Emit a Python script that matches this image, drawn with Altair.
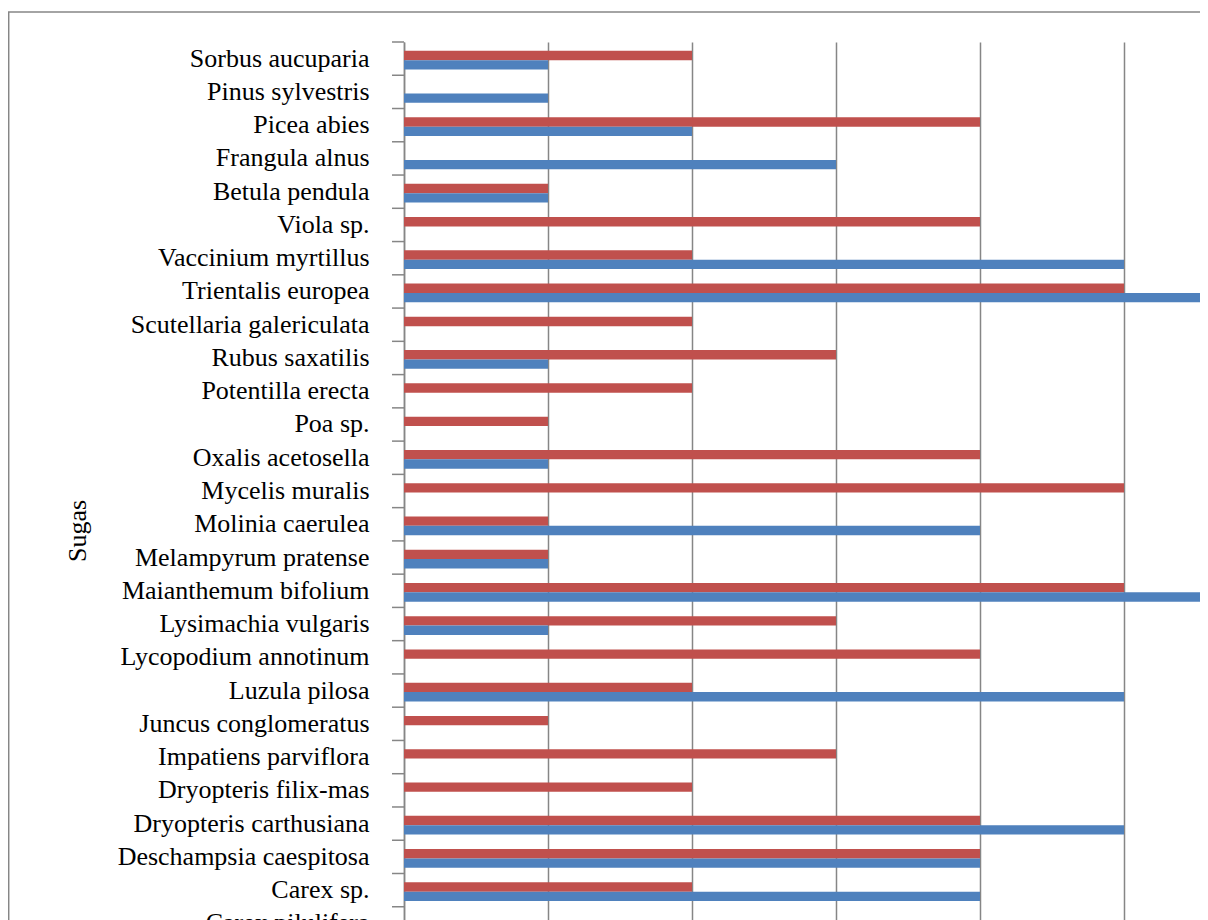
import altair as alt
import pandas as pd

# Categories, top to bottom as drawn
species = [
    "Sorbus aucuparia", "Pinus sylvestris", "Picea abies", "Frangula alnus",
    "Betula pendula", "Viola sp.", "Vaccinium myrtillus", "Trientalis europea",
    "Scutellaria galericulata", "Rubus saxatilis", "Potentilla erecta", "Poa sp.",
    "Oxalis acetosella", "Mycelis muralis", "Molinia caerulea", "Melampyrum pratense",
    "Maianthemum bifolium", "Lysimachia vulgaris", "Lycopodium annotinum",
    "Luzula pilosa", "Juncus conglomeratus", "Impatiens parviflora",
    "Dryopteris filix-mas", "Dryopteris carthusiana", "Deschampsia caespitosa",
    "Carex sp.", "Carex pilulifera",
]
# red series (upper bar of each pair)
red_values = [2, 0, 4, 0, 1, 4, 2, 5, 2, 3, 2, 1, 4, 5, 1, 1, 5, 3, 4, 2, 1, 3, 2, 4, 4, 2, 0]
# blue series (lower bar of each pair)
blue_values = [1, 1, 2, 3, 1, 0, 5, 6, 0, 1, 0, 0, 1, 0, 4, 1, 6, 1, 0, 5, 0, 0, 0, 5, 4, 4, 0]
series_names = ["A", "B"]
series_colors = ["#C0504D", "#4F81BD"]
grid_values = [0, 1, 2, 3, 4, 5]
axis_title = ["Sugas"]

rows = []
for s, r, b in zip(species, red_values, blue_values):
    rows.append({"species": s, "series": series_names[0], "value": r})
    rows.append({"species": s, "series": series_names[1], "value": b})
df = pd.DataFrame(rows)

UNIT = 144.0
W = 796
STEP = 33.26
H = STEP * len(species)
GRAY = "#868686"

x_scale = alt.Scale(domain=[0, W / UNIT], nice=False, zero=True)
y_scale = alt.Scale(domain=species, paddingInner=0, paddingOuter=0)

y_axis = alt.Axis(
    title=None, ticks=False, tickSize=0, labelPadding=35,
    labelFont="Liberation Serif", labelFontSize=26, labelColor="#000000",
    labelLimit=500, domainColor=GRAY, domainWidth=1.5, grid=False,
)
x_axis = alt.Axis(
    values=grid_values, grid=True, gridColor=GRAY, gridWidth=1.5,
    labels=False, ticks=False, domain=False, title=None,
)

bars = alt.Chart(df).mark_bar(clip=True).encode(
    x=alt.X("value:Q", scale=x_scale, axis=x_axis),
    y=alt.Y("species:N", scale=y_scale, axis=y_axis),
    yOffset=alt.YOffset(
        "series:N",
        scale=alt.Scale(domain=series_names, paddingInner=0, paddingOuter=0.773, align=0.605),
    ),
    color=alt.Color("series:N", scale=alt.Scale(domain=series_names, range=series_colors), legend=None),
)

tick_df = pd.DataFrame({"species": species})
ticks = alt.Chart(tick_df).mark_rule(color=GRAY, strokeWidth=1.5).encode(
    y=alt.Y("species:N", scale=y_scale, axis=y_axis, bandPosition=0),
    x=alt.value(-12),
    x2=alt.value(0),
)

one = pd.DataFrame({"k": [0]})
top_border = alt.Chart(one).mark_rule(color=GRAY, strokeWidth=1.5).encode(
    x=alt.value(-396), x2=alt.value(W + 50), y=alt.value(-30)
)
left_border = alt.Chart(one).mark_rule(color=GRAY, strokeWidth=1.5).encode(
    x=alt.value(-395.3), y=alt.value(-30), y2=alt.value(H + 100)
)

title_df = pd.DataFrame({"t": axis_title})
title = alt.Chart(title_df).mark_text(
    angle=270, font="Liberation Serif", fontSize=26, align="center",
    baseline="alphabetic", color="#000000",
).encode(x=alt.value(-318), y=alt.value(489), text="t:N")

chart = alt.layer(bars, ticks, top_border, left_border, title).properties(
    width=W,
    height=H,
    padding={"left": 396, "top": 34, "right": 0, "bottom": 0},
    autosize=alt.AutoSizeParams(type="none"),
    background="#ffffff",
).configure_view(strokeWidth=0)

chart.save("out.html", embed_options={"renderer": "svg", "actions": False})
